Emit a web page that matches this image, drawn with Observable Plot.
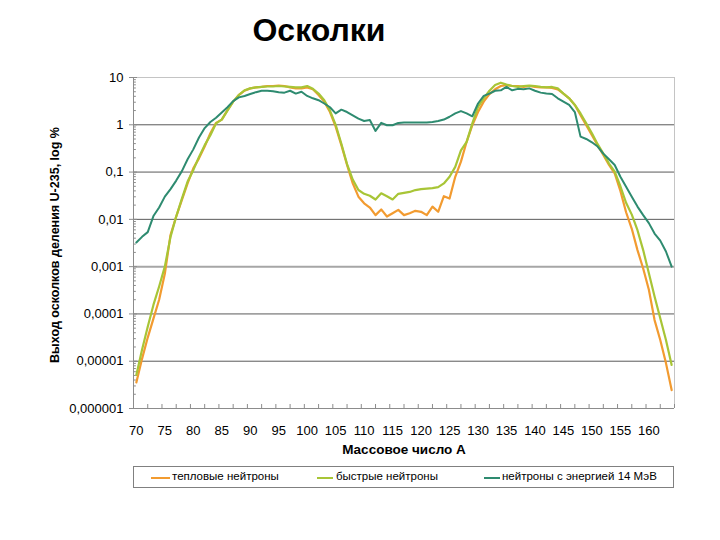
<!DOCTYPE html>
<html>
<head>
<meta charset="utf-8">
<script src="https://cdn.jsdelivr.net/npm/d3@7"></script>
<script src="https://cdn.jsdelivr.net/npm/@observablehq/plot@0.6"></script>
<style>
  body { margin: 0; background: #fff; font-family: "Liberation Sans", Arial, sans-serif; }
  #wrap { position: relative; width: 720px; height: 540px; overflow: hidden; background: #fff; }
  #title { position: absolute; left: 0; width: 638px; top: 12px; text-align: center; font-weight: bold; font-size: 32px; color: #000; }
  #chart { position: absolute; left: 0; top: 0; }
  #legend { position: absolute; left: 133px; top: 466px; width: 541px; height: 22px; border: 1px solid #808080; box-sizing: border-box; font-size: 11.5px; color: #000; }
  .sw { position: absolute; top: 10px; height: 2px; }
  .lt { position: absolute; top: 3px; white-space: nowrap; }
</style>
</head>
<body>
<div id="wrap">
  <div id="chart"></div>
  <div id="title">Осколки</div>
  <div id="legend"></div>
</div>
<script>
// ---- data (as log10 of yield in %) ----
const massStart = 70;
const massEnd = 164;
const seriesNames = ["тепловые нейтроны", "быстрые нейтроны", "нейтроны с энергией 14 МэВ"];
const seriesColors = ["#f29b30", "#a8c536", "#2e8b70"];

const thermalLog10 = [
  -5.45,-4.95,-4.50,-4.10,-3.70,-3.15,-2.33,-1.94,-1.59,-1.24,
  -0.92,-0.71,-0.46,-0.18,0.04,0.11,0.31,0.49,0.63,0.72,
  0.77,0.79,0.80,0.82,0.82,0.83,0.82,0.79,0.77,0.77,
  0.79,0.75,0.63,0.49,0.27,-0.04,-0.43,-0.85,-1.24,-1.52,
  -1.66,-1.75,-1.91,-1.79,-1.94,-1.87,-1.80,-1.91,-1.87,-1.82,
  -1.84,-1.91,-1.73,-1.84,-1.51,-1.56,-1.10,-0.78,-0.36,-0.01,
  0.27,0.49,0.65,0.75,0.82,0.84,0.82,0.82,0.80,0.82,
  0.80,0.79,0.79,0.78,0.75,0.66,0.56,0.42,0.20,-0.01,
  -0.22,-0.43,-0.64,-0.85,-1.03,-1.40,-1.85,-2.20,-2.65,-3.04,
  -3.49,-4.13,-4.55,-5.04,-5.61
];
const fastLog10 = [
  -5.29,-4.76,-4.27,-3.81,-3.42,-3.00,-2.37,-1.94,-1.56,-1.20,
  -0.96,-0.68,-0.43,-0.22,0.03,0.11,0.30,0.49,0.63,0.73,
  0.77,0.79,0.80,0.81,0.81,0.82,0.81,0.80,0.79,0.79,
  0.82,0.76,0.66,0.52,0.30,0.00,-0.40,-0.83,-1.16,-1.38,
  -1.46,-1.50,-1.58,-1.45,-1.51,-1.58,-1.46,-1.44,-1.42,-1.38,
  -1.36,-1.35,-1.34,-1.32,-1.24,-1.10,-0.89,-0.54,-0.36,0.03,
  0.38,0.56,0.72,0.84,0.89,0.85,0.82,0.80,0.82,0.83,
  0.82,0.80,0.79,0.80,0.77,0.66,0.56,0.42,0.24,0.03,
  -0.18,-0.41,-0.61,-0.82,-0.99,-1.30,-1.65,-1.90,-2.23,-2.65,
  -3.14,-3.63,-4.09,-4.55,-5.08
];
const mev14Log10 = [
  -2.49,-2.37,-2.27,-1.93,-1.75,-1.52,-1.36,-1.18,-0.98,-0.73,
  -0.52,-0.27,-0.07,0.06,0.15,0.26,0.37,0.50,0.58,0.61,
  0.65,0.69,0.72,0.72,0.71,0.69,0.68,0.72,0.66,0.70,
  0.61,0.56,0.52,0.45,0.37,0.24,0.32,0.27,0.20,0.13,
  0.08,0.10,-0.13,0.04,-0.01,-0.01,0.04,0.05,0.05,0.05,
  0.05,0.05,0.06,0.08,0.11,0.17,0.24,0.29,0.24,0.18,
  0.45,0.61,0.66,0.72,0.73,0.80,0.73,0.76,0.75,0.77,
  0.72,0.68,0.66,0.65,0.56,0.49,0.42,0.27,-0.25,-0.30,
  -0.37,-0.46,-0.61,-0.73,-0.85,-1.10,-1.31,-1.52,-1.73,-1.91,
  -2.08,-2.30,-2.45,-2.68,-3.00
];

const xTickLabels = [70,75,80,85,90,95,100,105,110,115,120,125,130,135,140,145,150,155,160];
const yTicks = [10, 1, 0.1, 0.01, 0.001, 0.0001, 0.00001, 0.000001];
const yTickLabels = ["10", "1", "0,1", "0,01", "0,001", "0,0001", "0,00001", "0,000001"];
const xAxisTitle = "Массовое число А";
const yAxisTitle = "Выход осколков деления U-235, log %";

// ---- build tables ----
const masses = d3.range(massStart, massEnd + 1);
const allLogs = [thermalLog10, fastLog10, mev14Log10];
const tables = allLogs.map(arr => masses.map((A, i) => ({A, v: Math.pow(10, arr[i])})));

const xMin = massStart - 0.5, xMax = massEnd + 0.5;
const yLabelMap = new Map(yTicks.map((t, i) => [t, yTickLabels[i]]));

// minor ticks
const minorY = [];
for (let e = -6; e < 1; e++) for (let k = 2; k <= 9; k++) minorY.push(k * Math.pow(10, e));
const minorX = d3.range(xMin + 2.5, xMax + 0.01, 2.5);
const gridY = [1, 0.1, 0.01, 0.0001, 0.00001];

const chart = Plot.plot({
  width: 720,
  height: 540,
  marginTop: 77,
  marginBottom: 132,
  marginLeft: 133,
  marginRight: 46,
  style: { fontFamily: "Liberation Sans, Arial, sans-serif", fontSize: "13px", color: "#000", background: "transparent", overflow: "visible" },
  x: { domain: [xMin, xMax] },
  y: { type: "log", domain: [1e-6, 10] },
  marks: [
    Plot.ruleY(gridY, { stroke: "#5a5a5a", strokeWidth: 1 }),
    Plot.ruleY([0.001], { stroke: "#a6a6a6", strokeWidth: 2 }),
    Plot.ruleY([10], { stroke: "#c4c4c4", strokeWidth: 1 }),
    Plot.ruleX([xMax], { stroke: "#c4c4c4", strokeWidth: 1 }),
    Plot.ruleX([xMin], { stroke: "#8c8c8c", strokeWidth: 1 }),
    Plot.ruleY([1e-6], { stroke: "#8c8c8c", strokeWidth: 1 }),
    Plot.ruleY(minorY, { x1: xMin, x2: xMin + 0.5, stroke: "#8c8c8c", strokeWidth: 1 }),
    Plot.ruleY(yTicks, { x1: xMin - 0.7, x2: xMin + 0.7, stroke: "#8c8c8c", strokeWidth: 1 }),
    Plot.ruleX(minorX, { y1: 1e-6, y2: 1.215e-6, stroke: "#8c8c8c", strokeWidth: 1 }),
    Plot.axisX(xTickLabels, { tickSize: 0, tickPadding: 17, label: null, fontSize: 13 }),
    Plot.axisY(yTicks, { tickSize: 0, tickPadding: 10, label: null, fontSize: 13, tickFormat: d => yLabelMap.get(d) }),
    Plot.line(tables[0], { x: "A", y: "v", stroke: seriesColors[0], strokeWidth: 2.2 }),
    Plot.line(tables[1], { x: "A", y: "v", stroke: seriesColors[1], strokeWidth: 2.2 }),
    Plot.line(tables[2], { x: "A", y: "v", stroke: seriesColors[2], strokeWidth: 2 }),
    Plot.text([xAxisTitle], { text: d => d, frameAnchor: "bottom", dy: 45, fontWeight: "bold", fontSize: 13.5 }),
    Plot.text([yAxisTitle], { text: d => d, frameAnchor: "left", textAnchor: "middle", dx: -79, dy: 2, rotate: -90, fontWeight: "bold", fontSize: 12.5 })
  ]
});
document.getElementById("chart").appendChild(chart);

// legend
const legend = document.getElementById("legend");
const legendPos = [[17, 19, 38], [183, 16, 202], [350, 16, 368]];
seriesNames.forEach((name, i) => {
  const sw = document.createElement("div");
  sw.className = "sw";
  sw.style.left = legendPos[i][0] + "px";
  sw.style.width = legendPos[i][1] + "px";
  sw.style.background = seriesColors[i];
  legend.appendChild(sw);
  const t = document.createElement("div");
  t.className = "lt";
  t.style.left = legendPos[i][2] + "px";
  t.textContent = name;
  legend.appendChild(t);
});
</script>
</body>
</html>
